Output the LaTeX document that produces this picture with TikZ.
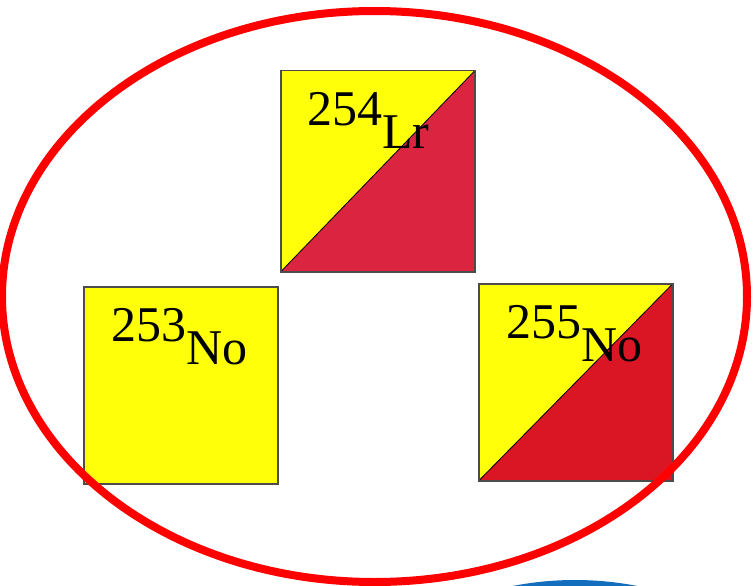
\documentclass[tikz,border=0pt]{standalone}
\usepackage{fontspec}
\setmainfont{Liberation Serif}
\usepackage{xcolor}
\usetikzlibrary{positioning, calc}

\definecolor{nucyellow}{RGB}{255,255,10}
\definecolor{lrred}{RGB}{218,36,64}
\definecolor{nored}{RGB}{218,22,36}
\definecolor{ringred}{RGB}{255,0,0}
\definecolor{ringblue}{RGB}{20,110,190}

\tikzset{
    nucbox/.style={draw=black!70, line width=1.5pt, fill=nucyellow,
        minimum width=194pt, minimum height=197pt, anchor=north west, inner sep=0pt},
    halfbox/.style={nucbox, path picture={
        \fill[#1] (path picture bounding box.south west) -- (path picture bounding box.north east)
            -- (path picture bounding box.south east) -- cycle;
        \draw[black, line width=0.8pt] (path picture bounding box.south west) -- (path picture bounding box.north east);}},
    isolabel/.style={anchor=base west, inner sep=0pt, font=\fontsize{50}{50}\selectfont}
}

\newcommand{\nuclide}[2]{#1\raisebox{-23pt}{#2}}

\begin{document}
\begin{tikzpicture}[x=1pt, y=-1pt]
    \useasboundingbox (0,0) rectangle (753,586);
    \clip (0,0) rectangle (753,586);

    % the three nuclei
    \node[halfbox=lrred, minimum height=201pt] (lr254) at (280,70) {};
    \node[nucbox] (no253) at (83,286) {};
    \node[halfbox=nored] (no255) at (478,283) {};

    \node[isolabel] (lr254t) at ([xshift=27pt, yshift=-55pt]lr254.north west) {\nuclide{254}{Lr}};
    \node[isolabel] (no253t) at ([xshift=28pt, yshift=-55pt]no253.north west) {\nuclide{253}{No}};
    \node[isolabel] (no255t) at ([xshift=28pt, yshift=-55pt]no255.north west) {\nuclide{255}{No}};

    % rings
    \draw[ringred, line width=8pt] (374.5,296.5) ellipse [x radius=372.5, y radius=285.5];
    \draw[ringblue, line width=8pt] (575,865) ellipse [x radius=300, y radius=281];
\end{tikzpicture}
\end{document}
